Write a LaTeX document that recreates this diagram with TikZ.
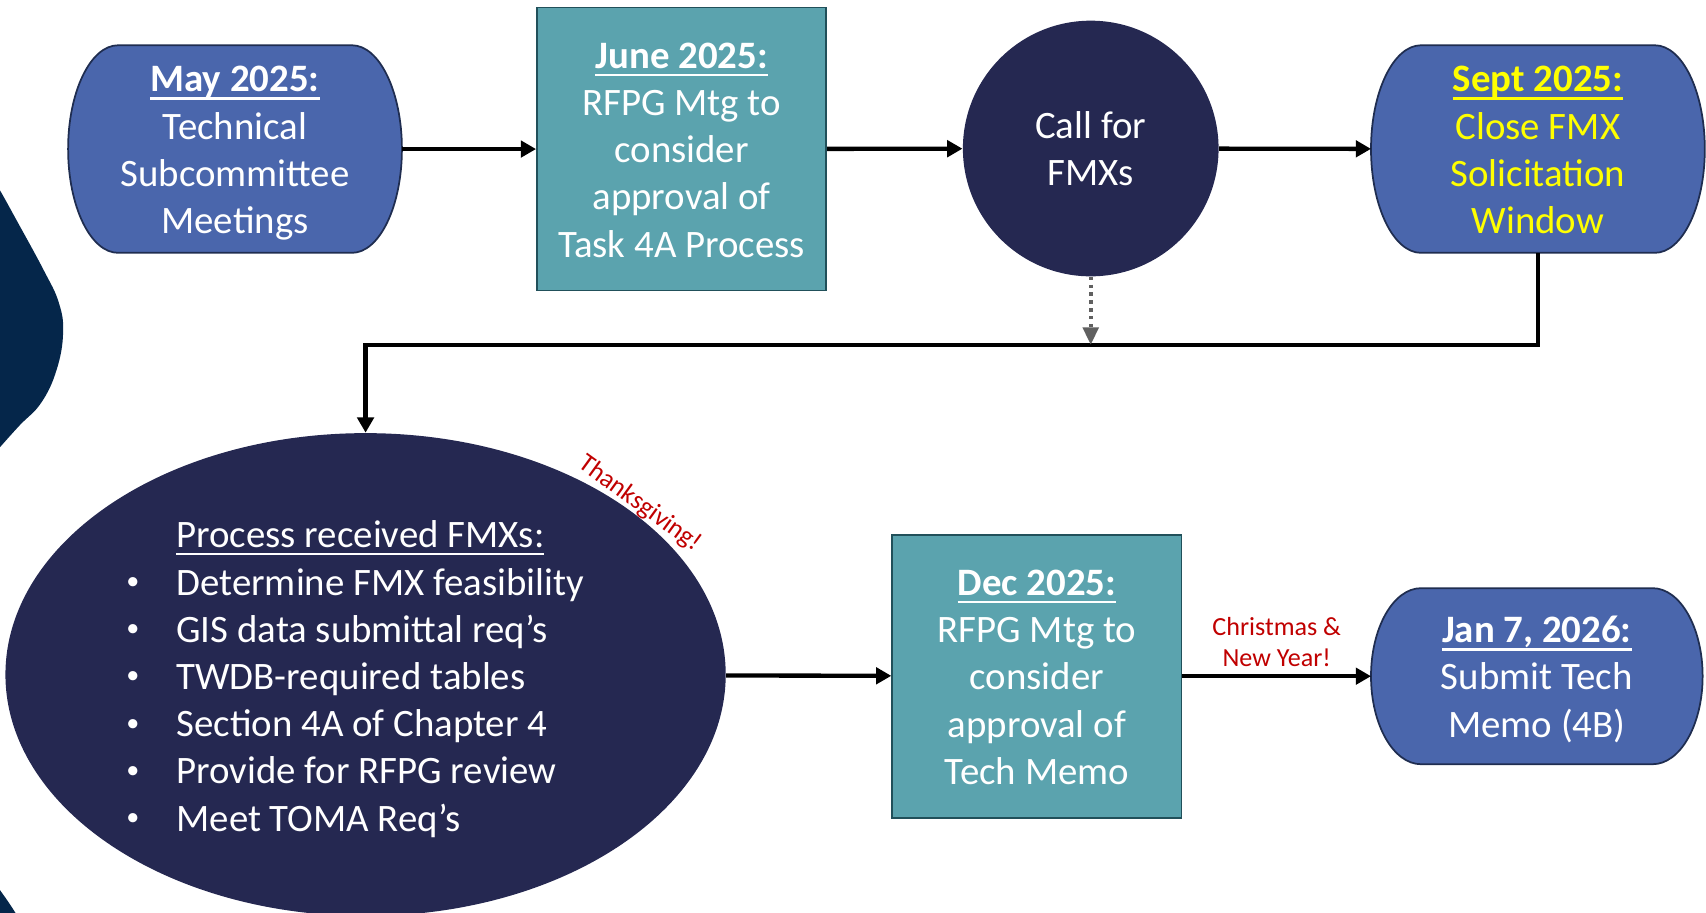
\documentclass[tikz,border=0pt]{standalone}
\usepackage{fontspec}
\setmainfont{Carlito}
\usetikzlibrary{arrows.meta,calc,shapes.geometric}
\pgfdeclarelayer{bg}
\pgfsetlayers{bg,main}
\definecolor{termblue}{HTML}{4A66AC}
\definecolor{termedge}{HTML}{1F2D50}
\definecolor{tealfill}{HTML}{5BA3AE}
\definecolor{tealedge}{HTML}{21505A}
\definecolor{navy}{HTML}{252851}
\definecolor{deco}{HTML}{05264A}
\definecolor{holiday}{HTML}{C00000}
\definecolor{hiyellow}{HTML}{FFFF00}
\definecolor{dotgray}{HTML}{606060}
\newcommand\ulb[1]{\setbox0\hbox{#1}\rlap{\rule[-3.6pt]{\wd0}{1.1pt}}\box0}
\newcommand\ulr[1]{\setbox0\hbox{#1}\rlap{\rule[-3.2pt]{\wd0}{0.8pt}}\box0}
\newcommand\topstrut{\rule[0pt]{0pt}{17.6pt}}
\newcommand\botstrut{\rule[-5pt]{0pt}{5pt}}
\newcommand\bul{\raisebox{2.6pt}{\fontsize{12pt}{12pt}\selectfont\textbullet}}
\newcommand\termbg[2]{%
\begin{pgfonlayer}{bg}
\path[termshape] ($(#1.north west)+(46,0)$) -- ($(#1.north east)+(-46,0)$)
 .. controls ($(#1.north east)+(-20.6,0)$) and ($(#1.east)+(0,-#2)$) .. (#1.east)
 .. controls ($(#1.east)+(0,#2)$) and ($(#1.south east)+(-20.6,0)$) .. ($(#1.south east)+(-46,0)$)
 -- ($(#1.south west)+(46,0)$)
 .. controls ($(#1.south west)+(20.6,0)$) and ($(#1.west)+(0,#2)$) .. (#1.west)
 .. controls ($(#1.west)+(0,-#2)$) and ($(#1.north west)+(20.6,0)$) .. cycle;
\end{pgfonlayer}}
\tikzset{
  mainfont/.style={font=\fontsize{17.85pt}{21.7pt}\selectfont},
  txt/.style={mainfont, text=white, align=center, inner sep=0pt},
  term/.style={txt, rectangle, minimum width=153pt, minimum height=95pt},
  tealbox/.style={txt, rectangle, draw=tealedge, line width=0.8pt, fill=tealfill,
    minimum width=133pt, minimum height=130pt},
  navycircle/.style={txt, circle, fill=navy, minimum size=117.5pt},
  navyell/.style={mainfont, text=white, ellipse, fill=navy, minimum width=331pt,
    minimum height=218pt, inner sep=0pt},
  termshape/.style={fill=termblue, draw=termedge, line width=0.8pt},
  arr/.style={draw=black, line width=2pt, -{Triangle[length=7pt,width=7.5pt]}},
  dotarr/.style={draw=dotgray, line width=2pt, dash pattern=on 1.6pt off 2pt,
    -{Triangle[length=8pt,width=7pt]}},
  holtext/.style={text=holiday, font=\fontsize{12pt}{14pt}\selectfont, inner sep=0pt},
}
\begin{document}
\begin{tikzpicture}[x=0.5pt, y=-0.5pt]
\path[use as bounding box, clip] (0,0) rectangle (1568,839);
% left decoration
\fill[deco] plot[smooth, tension=0.7] coordinates {(-6,166) (0,175) (15,202) (40,248) (54,278) (58,306) (52,340) (38,370) (18,391) (0,411) (-6,418)} -- cycle;
\fill[deco] (-3,814) .. controls (5,825) and (10,832) .. (16,842) -- (-3,842) -- cycle;

% top row
\node[term] (may) at (216,137) {\topstrut\ulb{\textbf{May 2025:}}\\Technical\\Subcommittee\\Meetings\botstrut};
\termbg{may}{52.5}
\node[tealbox] (june) at (626.5,137) {\topstrut\ulb{\textbf{June 2025:}}\\RFPG Mtg to\\consider\\approval of\\Task 4A Process\botstrut};
\node[navycircle] (call) at (1002.5,136.5) {\topstrut Call for\\FMXs\botstrut};
\node[term, text=hiyellow, minimum width=153pt] (sept) at (1413.5,137) {\topstrut\ulb{\textbf{Sept 2025:}}\\Close FMX\\Solicitation\\Window\botstrut};
\termbg{sept}{52.5}

% bottom row
\node[navyell] (proc) at (336,620) {\hspace*{-9.5pt}\begin{tabular}{@{}p{23pt}@{}l@{}}
 \rule{0pt}{20.2pt}& \ulr{Process received FMXs:}\\
 \bul & Determine FMX feasibility\\
 \bul & GIS data submittal req’s\\
 \bul & TWDB-required tables\\
 \bul & Section 4A of Chapter 4\\
 \bul & Provide for RFPG review\\
 \bul & Meet TOMA Req’s
\end{tabular}};
\node[holtext, rotate=-36] (thx) at (588,463) {Thanksgiving!};
\node[tealbox] (dec) at (953,621.5) {\topstrut\ulb{\textbf{Dec 2025:}}\\RFPG Mtg to\\consider\\approval of\\Tech Memo\botstrut};
\node[term, minimum width=152pt, minimum height=80.5pt] (jan) at (1412.5,621.5) {\topstrut\ulb{\textbf{Jan 7, 2026:}}\\Submit Tech\\Memo (4B)\botstrut};
\termbg{jan}{44.5}

% connectors
\coordinate (bus) at (0,317);
\draw[arr] (may) -- (june);
\draw[arr] (june) -- (call);
\draw[arr] (call) -- (sept);
\draw[arr] (sept.south) -- (sept.south |- bus) -| (proc.north);
\draw[dotarr] (call.south) -- (call.south |- bus);
\draw[arr] (proc) -- (dec);
\draw[arr] (dec) -- node[holtext, above=3.5pt, align=center] (xmas) {Christmas \&\\New Year!} (jan);
\end{tikzpicture}
\end{document}
